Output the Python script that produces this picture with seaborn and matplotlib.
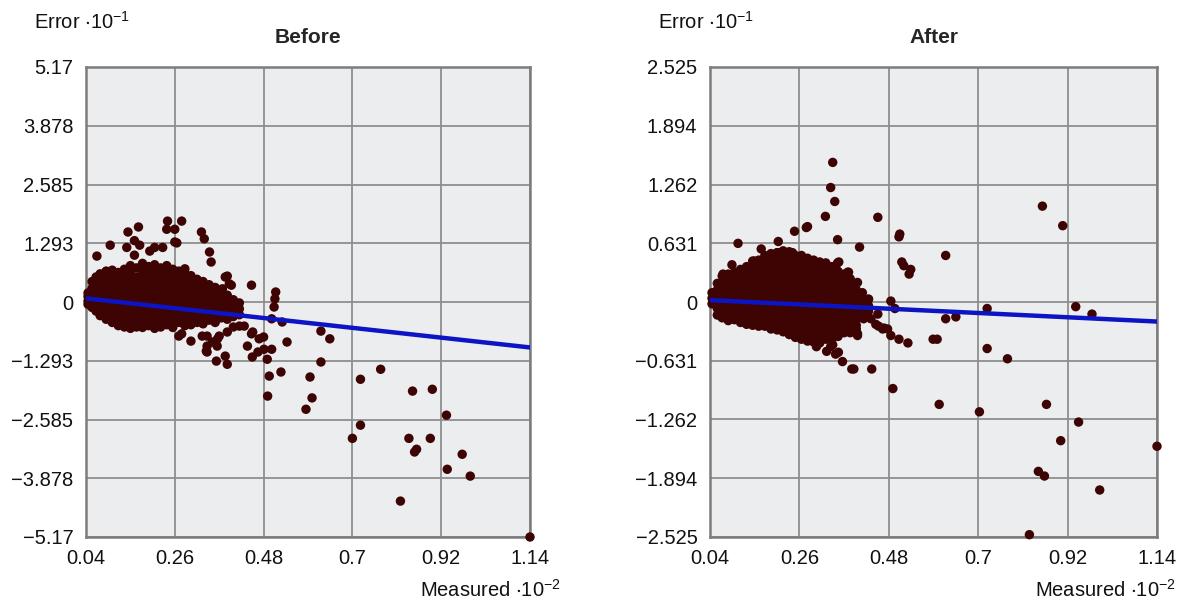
import matplotlib
matplotlib.use("Agg")
import matplotlib.pyplot as plt
import seaborn as sns
import pandas as pd

# ---------------- data ----------------
x_ticks = [0.04, 0.26, 0.48, 0.7, 0.92, 1.14]
x_tick_labels = ["0.04", "0.26", "0.48", "0.7", "0.92", "1.14"]

before_y_ticks = [5.17, 3.878, 2.585, 1.293, 0, -1.293, -2.585, -3.878, -5.17]
before_y_labels = ["5.17", "3.878", "2.585", "1.293", "0", "\u22121.293", "\u22122.585", "\u22123.878", "\u22125.17"]
after_y_ticks = [2.525, 1.894, 1.262, 0.631, 0, -0.631, -1.262, -1.894, -2.525]
after_y_labels = ["2.525", "1.894", "1.262", "0.631", "0", "\u22120.631", "\u22121.262", "\u22121.894", "\u22122.525"]

# dense core of the "Before" cloud, read column by column
before_core_x = [0.045, 0.055, 0.065, 0.075, 0.09, 0.105, 0.12, 0.135, 0.15, 0.165,
                 0.18, 0.195, 0.21, 0.225, 0.24, 0.255, 0.27, 0.285, 0.30, 0.315,
                 0.33, 0.345, 0.36, 0.375, 0.39, 0.405, 0.42]
before_core_y = [
    [0.02, 0.12, 0.2, -0.05],
    [0.3, 0.15, 0.0, -0.12, 0.45],
    [0.55, 0.35, 0.2, 0.05, -0.1, -0.2],
    [0.62, 0.45, 0.28, 0.1, -0.05, -0.22, -0.3],
    [0.68, 0.5, 0.35, 0.18, 0.02, -0.12, -0.28, -0.38],
    [0.7, 0.55, 0.4, 0.25, 0.1, -0.05, -0.2, -0.35, -0.45],
    [0.65, 0.48, 0.32, 0.15, 0.0, -0.15, -0.3, -0.45, -0.52],
    [0.72, 0.58, 0.42, 0.26, 0.1, -0.05, -0.22, -0.38, -0.55],
    [0.8, 0.62, 0.45, 0.3, 0.12, -0.03, -0.18, -0.33, -0.48, -0.58],
    [0.75, 0.55, 0.38, 0.2, 0.05, -0.1, -0.26, -0.42, -0.55],
    [0.85, 0.68, 0.5, 0.33, 0.15, 0.0, -0.15, -0.3, -0.45, -0.56],
    [0.78, 0.6, 0.42, 0.25, 0.08, -0.08, -0.22, -0.38, -0.52],
    [0.82, 0.65, 0.48, 0.3, 0.12, -0.02, -0.18, -0.33, -0.48, -0.58],
    [0.75, 0.58, 0.4, 0.22, 0.06, -0.1, -0.25, -0.4, -0.55],
    [0.8, 0.62, 0.45, 0.28, 0.1, -0.05, -0.2, -0.35, -0.5],
    [0.72, 0.55, 0.38, 0.2, 0.04, -0.12, -0.28, -0.45, -0.56],
    [0.68, 0.5, 0.32, 0.15, 0.0, -0.15, -0.3, -0.45],
    [0.62, 0.45, 0.28, 0.1, -0.06, -0.22, -0.38, -0.52],
    [0.58, 0.4, 0.22, 0.06, -0.1, -0.25, -0.4, -0.5],
    [0.5, 0.33, 0.16, 0.0, -0.15, -0.3, -0.45],
    [0.45, 0.28, 0.12, -0.04, -0.2, -0.35, -0.48],
    [0.38, 0.2, 0.05, -0.1, -0.25, -0.4],
    [0.32, 0.15, 0.0, -0.15, -0.3, -0.45],
    [0.22, 0.08, -0.06, -0.2, -0.35],
    [0.15, 0.0, -0.12, -0.25, -0.38],
    [0.05, -0.08, -0.2, -0.32],
    [-0.02, -0.15, -0.28],
]

# scattered "Before" points outside the core
before_pts_x = [0.067, 0.10, 0.144, 0.17, 0.141, 0.16, 0.173, 0.16, 0.198, 0.21, 0.23, 0.242, 0.24,
                0.26, 0.277, 0.26, 0.265, 0.326, 0.333, 0.346, 0.35, 0.39, 0.395, 0.378, 0.40, 0.45,
                0.51, 0.508, 0.506, 0.526, 0.538, 0.622, 0.644, 0.622, 0.77, 0.72,
                0.363, 0.39, 0.338, 0.30, 0.277, 0.328, 0.353, 0.37, 0.432, 0.45, 0.44, 0.469,
                0.481, 0.489, 0.494, 0.523, 0.452, 0.49, 0.595, 0.60, 0.585, 0.72, 0.70, 0.849,
                0.898, 0.84, 0.859, 0.854, 0.893, 0.933, 0.972, 0.935, 0.992, 0.819, 1.14,
                0.50, 0.42, 0.453, 0.48, 0.466, 0.50, 0.405, 0.39, 0.34, 0.365, 0.34, 0.385,
                0.27, 0.366, 0.34, 0.385, 0.285]
before_pts_y = [1.01, 1.25, 1.54, 1.65, 1.2, 1.35, 1.25, 1.03, 1.12, 1.2, 1.2, 1.78, 1.6,
                1.6, 1.78, 1.32, 1.3, 1.54, 1.39, 1.1, 0.88, 0.57, 0.4, 0.29, 0.37, 0.37,
                0.22, 0.07, -0.11, -0.44, -0.88, -0.64, -0.81, -1.32, -1.48, -1.7,
                -1.3, -1.37, -1.08, -0.86, -0.7, -0.75, -0.88, -0.75, -0.53, -0.70, -0.97, -0.81,
                -1.04, -1.26, -1.63, -1.54, -1.21, -2.07, -1.65, -2.11, -2.36, -2.71, -3.0, -1.96,
                -1.92, -3.0, -3.24, -3.3, -3.0, -2.49, -3.35, -3.68, -3.83, -4.38, -5.17,
                -0.37, -0.53, -0.66, -0.77, -1.1, -1.04, -0.55, -0.66, -0.75, -0.97, -1.1, -1.19,
                -0.75, -0.81, -0.97, 0.55, 0.73]

before_fit_x = [0.04, 1.14]
before_fit_y = [0.08, -1.0]

# dense core of the "After" cloud
after_core_x = [0.045, 0.058, 0.07, 0.085, 0.10, 0.115, 0.13, 0.145, 0.16, 0.175, 0.19, 0.205,
                0.22, 0.235, 0.25, 0.265, 0.28, 0.295, 0.31, 0.325, 0.34, 0.355, 0.37, 0.385,
                0.40, 0.415, 0.43]
after_core_y = [
    [0.1, 0.04, -0.02],
    [0.2, 0.13, 0.07, 0.0, -0.07, -0.14],
    [0.28, 0.21, 0.15, 0.08, 0.02, -0.05, -0.11, -0.17],
    [0.3, 0.23, 0.17, 0.1, 0.04, -0.03, -0.09, -0.15, -0.2],
    [0.32, 0.25, 0.19, 0.12, 0.06, -0.01, -0.07, -0.13, -0.19],
    [0.35, 0.28, 0.22, 0.15, 0.09, 0.02, -0.04, -0.1, -0.16, -0.22],
    [0.38, 0.31, 0.25, 0.18, 0.12, 0.05, -0.01, -0.08, -0.14, -0.2, -0.24],
    [0.44, 0.37, 0.3, 0.24, 0.17, 0.11, 0.04, -0.02, -0.09, -0.15, -0.21, -0.25],
    [0.45, 0.38, 0.32, 0.25, 0.19, 0.12, 0.06, -0.01, -0.07, -0.14, -0.2, -0.26],
    [0.5, 0.43, 0.37, 0.3, 0.24, 0.17, 0.11, 0.04, -0.02, -0.09, -0.15, -0.21, -0.26],
    [0.52, 0.45, 0.39, 0.32, 0.26, 0.19, 0.13, 0.06, 0.0, -0.07, -0.13, -0.19, -0.25, -0.29],
    [0.53, 0.46, 0.4, 0.33, 0.27, 0.2, 0.14, 0.07, 0.01, -0.06, -0.12, -0.19, -0.25, -0.3],
    [0.55, 0.48, 0.42, 0.35, 0.29, 0.22, 0.16, 0.09, 0.03, -0.04, -0.1, -0.17, -0.23, -0.29, -0.32],
    [0.54, 0.47, 0.41, 0.34, 0.28, 0.21, 0.15, 0.08, 0.02, -0.05, -0.11, -0.18, -0.24, -0.3, -0.35],
    [0.5, 0.43, 0.37, 0.3, 0.24, 0.17, 0.11, 0.04, -0.02, -0.09, -0.15, -0.22, -0.28, -0.34, -0.38],
    [0.5, 0.43, 0.37, 0.3, 0.24, 0.17, 0.11, 0.04, -0.02, -0.09, -0.15, -0.22, -0.28, -0.34, -0.4],
    [0.47, 0.4, 0.34, 0.27, 0.21, 0.14, 0.08, 0.01, -0.05, -0.12, -0.18, -0.25, -0.31, -0.37, -0.42],
    [0.45, 0.38, 0.32, 0.25, 0.19, 0.12, 0.06, -0.01, -0.07, -0.14, -0.2, -0.27, -0.33, -0.39, -0.43],
    [0.43, 0.36, 0.3, 0.23, 0.17, 0.1, 0.04, -0.03, -0.09, -0.16, -0.22, -0.29, -0.35, -0.41, -0.44],
    [0.42, 0.35, 0.29, 0.22, 0.16, 0.09, 0.03, -0.04, -0.1, -0.17, -0.23, -0.3, -0.36, -0.4],
    [0.38, 0.31, 0.25, 0.18, 0.12, 0.05, -0.01, -0.08, -0.14, -0.21, -0.27, -0.34, -0.4],
    [0.33, 0.26, 0.2, 0.13, 0.07, 0.0, -0.06, -0.13, -0.19, -0.26, -0.32, -0.37],
    [0.3, 0.23, 0.17, 0.1, 0.04, -0.03, -0.09, -0.16, -0.22, -0.29, -0.33],
    [0.25, 0.18, 0.12, 0.05, -0.01, -0.08, -0.14, -0.21, -0.27, -0.33],
    [0.2, 0.13, 0.07, 0.0, -0.06, -0.13, -0.19, -0.25, -0.29],
    [0.1, 0.04, -0.03, -0.09, -0.16],
    [0.03, -0.04, -0.1],
]

after_pts_x = [0.342, 0.337, 0.347, 0.324, 0.354, 0.277, 0.248, 0.109, 0.208, 0.166, 0.094, 0.408,
               0.453, 0.507, 0.505, 0.512, 0.517, 0.534, 0.53, 0.62, 0.354, 0.379, 0.403, 0.485,
               0.495, 0.62, 0.645, 0.722, 0.94, 0.98, 0.858, 0.908, 0.589, 0.599, 0.722, 0.772,
               0.527, 0.505, 0.485, 0.465, 0.448, 0.436, 0.453, 0.389, 0.438, 0.366, 0.349, 0.337,
               0.302, 0.327, 0.49, 0.403, 0.418, 0.468, 0.604, 0.703, 0.868, 0.947, 0.903, 0.848,
               0.863, 0.999, 0.826, 1.14, 0.28, 0.206, 0.243, 0.149, 0.357, 0.381, 0.072, 0.342,
               0.356, 0.394, 0.403, 0.455, 0.477, 0.43, 0.275]
after_pts_y = [1.5, 1.23, 1.08, 0.92, 0.67, 0.8, 0.76, 0.63, 0.65, 0.57, 0.4, 0.59,
               0.91, 0.73, 0.7, 0.43, 0.39, 0.35, 0.3, 0.5, 0.42, 0.32, 0.21, 0.01,
               -0.07, -0.18, -0.16, -0.07, -0.05, -0.13, 1.03, 0.82, -0.4, -0.4, -0.5, -0.61,
               -0.44, -0.4, -0.36, -0.29, -0.24, -0.18, -0.13, -0.72, -0.72, -0.64, -0.56, -0.48,
               -0.48, -0.53, -0.93, -0.36, -0.18, -0.28, -1.1, -1.18, -1.1, -1.29, -1.49, -1.82,
               -1.87, -2.02, -2.5, -1.55, 0.81, 0.53, 0.53, 0.44, 0.43, 0.32, 0.3, -0.46,
               -0.54, -0.72, -0.34, -0.26, -0.29, 0.03, -0.36]

after_fit_x = [0.04, 1.14]
after_fit_y = [0.02, -0.21]


def build_frame(core_x, core_y, pts_x, pts_y):
    xs, ys = [], []
    for cx, col in zip(core_x, core_y):
        for v in col:
            xs.append(cx)
            ys.append(v)
    xs += pts_x
    ys += pts_y
    return pd.DataFrame({"Measured": xs, "Error": ys})


before_df = build_frame(before_core_x, before_core_y, before_pts_x, before_pts_y)
after_df = build_frame(after_core_x, after_core_y, after_pts_x, after_pts_y)

# ---------------- style ----------------
sns.set_style("white")
plt.rcParams["font.family"] = ["Liberation Sans", "DejaVu Sans"]
plt.rcParams["mathtext.default"] = "regular"

W, H = 1187, 602
fig = plt.figure(figsize=(W / 100, H / 100), dpi=100)
fig.patch.set_facecolor("white")

ax_b = fig.add_axes([86 / W, 65 / H, 444 / W, 470 / H])
ax_a = fig.add_axes([710 / W, 65 / H, 447 / W, 470 / H])

dot_color = "#3e0404"
line_color = "#0c14c4"


def style_axes(ax, yticks, ylabels, ylim):
    ax.set_facecolor("#ecedef")
    ax.set_xlim(0.04, 1.14)
    ax.set_ylim(*ylim)
    ax.set_xticks(x_ticks)
    ax.set_xticklabels(x_tick_labels)
    ax.set_yticks(yticks)
    ax.set_yticklabels(ylabels)
    ax.grid(True, color="#8e8e8e", linewidth=1.3)
    ax.set_axisbelow(True)
    for s in ax.spines.values():
        s.set_color("#7c7c7c")
        s.set_linewidth(1.8)
        s.set_visible(True)
    ax.tick_params(length=0, labelsize=14.5, pad=9, colors="#111111")
    ax.set_xlabel("")
    ax.set_ylabel("")


for ax, df, fx, fy, yt, yl, lim, title in [
    (ax_b, before_df, before_fit_x, before_fit_y, before_y_ticks, before_y_labels, (-5.17, 5.17), "Before"),
    (ax_a, after_df, after_fit_x, after_fit_y, after_y_ticks, after_y_labels, (-2.525, 2.525), "After"),
]:
    sns.scatterplot(data=df, x="Measured", y="Error", ax=ax, color=dot_color,
                    s=46, edgecolor="none", linewidth=0, clip_on=False, zorder=3)
    sns.lineplot(x=fx, y=fy, ax=ax, color=line_color, linewidth=3.2, zorder=4)
    style_axes(ax, yt, yl, lim)
    ax.set_title(title, fontsize=15, fontweight="bold", pad=17)

fig.text(34 / W, 1 - 22 / H, r"Error $\cdot$10$^{-1}$", fontsize=14.5, ha="left", va="center", color="#111111")
fig.text(658 / W, 1 - 22 / H, r"Error $\cdot$10$^{-1}$", fontsize=14.5, ha="left", va="center", color="#111111")
fig.text(561 / W, 1 - 590 / H, r"Measured $\cdot$10$^{-2}$", fontsize=14.5, ha="right", va="center", color="#111111")
fig.text(1176 / W, 1 - 590 / H, r"Measured $\cdot$10$^{-2}$", fontsize=14.5, ha="right", va="center", color="#111111")

fig.savefig("out.png", dpi=100, facecolor="white")
